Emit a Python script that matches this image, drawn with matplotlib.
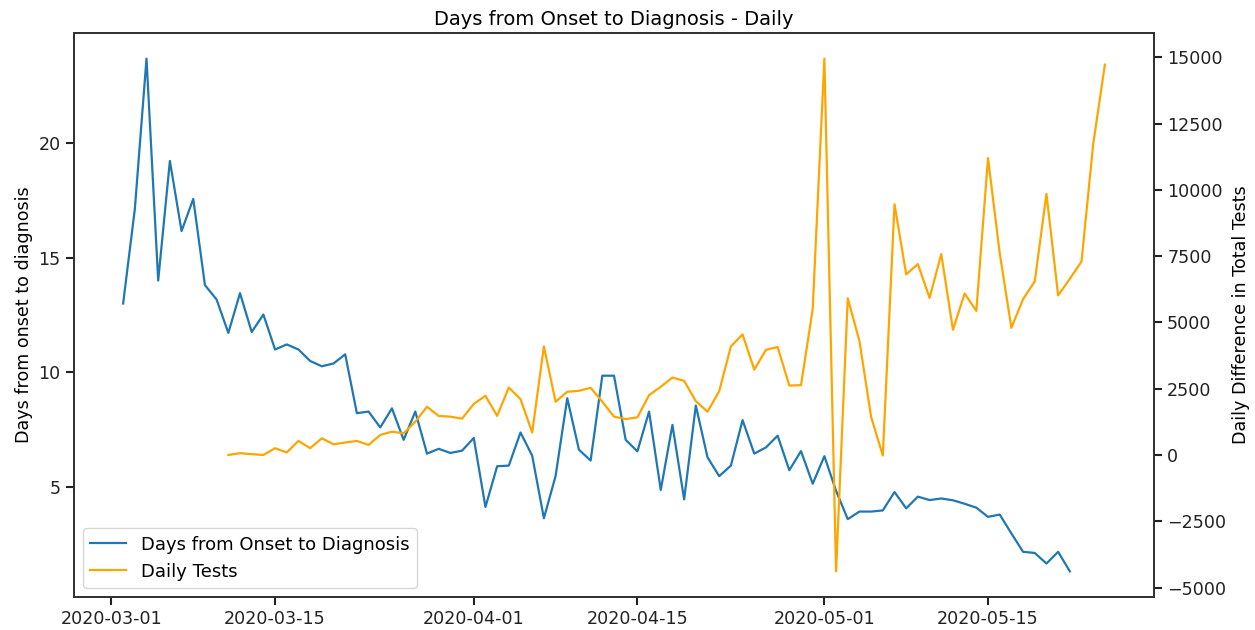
import matplotlib
matplotlib.use('Agg')
import matplotlib.pyplot as plt
import matplotlib.dates as mdates
import pandas as pd

# days from onset to diagnosis, daily from 2020-03-02
onset_days = [13.0, 17.1, 23.65, 14.0, 19.2, 16.15, 17.55, 13.8, 13.17, 11.72,
              13.45, 11.76, 12.52, 11.0, 11.22, 11.0, 10.5, 10.27, 10.39, 10.79,
              8.23, 8.30, 7.61, 8.44, 7.07, 8.30, 6.47, 6.68, 6.50, 6.60,
              7.15, 4.15, 5.92, 5.95, 7.39, 6.38, 3.66, 5.49, 8.88, 6.64,
              6.17, 9.86, 9.86, 7.07, 6.57, 8.30, 4.89, 7.72, 4.48, 8.56,
              6.31, 5.49, 5.95, 7.93, 6.47, 6.74, 7.25, 5.75, 6.58, 5.16,
              6.36, 4.85, 3.62, 3.95, 3.95, 4.0, 4.80, 4.09, 4.60, 4.45,
              4.52, 4.44, 4.29, 4.12, 3.72, 3.82, 3.0, 2.2, 2.15, 1.69,
              2.2, 1.35]

# daily difference in total tests, daily from 2020-03-11
daily_tests = [0, 68, 30, 0, 255, 94, 530, 255, 630, 405,
               470, 530, 380, 755, 880, 818, 1257, 1820, 1470, 1445,
               1370, 1925, 2233, 1475, 2545, 2106, 845, 4096, 2008, 2383,
               2421, 2534, 2008, 1445, 1355, 1419, 2256, 2571, 2920, 2797,
               2031, 1633, 2406, 4096, 4546, 3220, 3965, 4072, 2620, 2633,
               5500, 14950, -4390, 5909, 4300, 1435, -20, 9460, 6813, 7200,
               5924, 7580, 4723, 6090, 5435, 11200, 7620, 4794, 5879, 6547,
               9850, 6018, 6645, 7298, 11728, 14723]

onset_dates = pd.date_range('2020-03-02', periods=len(onset_days))
test_dates = pd.date_range('2020-03-11', periods=len(daily_tests))

tick_dates = pd.to_datetime(['2020-03-01', '2020-03-15', '2020-04-01',
                             '2020-04-15', '2020-05-01', '2020-05-15'])

plt.rcParams['font.size'] = 12.6

fig = plt.figure(figsize=(12.55, 6.3), dpi=100)
ax = fig.add_axes([0.059, 0.0524, 0.8605, 0.8952])
ax2 = ax.twinx()

l1, = ax.plot(onset_dates, onset_days, color='#1f77b4', lw=1.6,
              label='Days from Onset to Diagnosis')
l2, = ax2.plot(test_dates, daily_tests, color='orange', lw=1.6,
               label='Daily Tests')

ax.set_ylabel('Days from onset to diagnosis')
ax2.set_ylabel('Daily Difference in Total Tests')
ax.set_title('Days from Onset to Diagnosis - Daily', fontsize=14)

ax.set_xticks(tick_dates)
ax.xaxis.set_major_formatter(mdates.DateFormatter('%Y-%m-%d'))

for a in (ax, ax2):
    a.tick_params(length=6, width=1.5, colors='#222222', labelcolor='#222222')
    for s in a.spines.values():
        s.set_linewidth(1.4)
        s.set_color('#333333')

ax.legend(handles=[l1, l2], loc='lower left', fontsize=13)

fig.savefig('out.png', dpi=100)
